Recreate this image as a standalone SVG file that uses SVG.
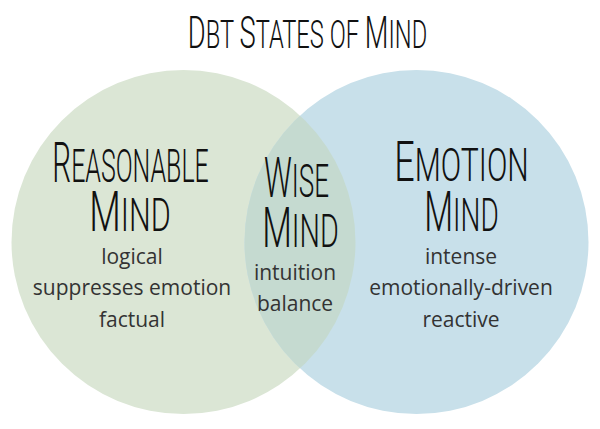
<svg xmlns="http://www.w3.org/2000/svg" width="600" height="429" viewBox="0 0 600 429">
<style>
.hd{font-family:Roboto,Inter,"DejaVu Sans",sans-serif;font-weight:300;fill:#111;text-anchor:middle}
.bg{font-size:56px}
.sm{font-size:47px}
.tb{font-size:45px}
.ts{font-size:39px}
.body{font-family:"Open Sans","Noto Sans",sans-serif;font-size:21px;fill:#333;text-anchor:middle}
</style>
<defs>
<clipPath id="clipL"><circle cx="183.5" cy="242" r="172"/></clipPath>
</defs>
<rect width="600" height="429" fill="#ffffff"/>
<g id="circles">
<circle cx="183.5" cy="242" r="172" fill="#dbe6d5"/>
<circle cx="416.5" cy="242" r="172" fill="#c8e0ea"/>
<circle cx="416.5" cy="242" r="172" fill="#c5dad0" clip-path="url(#clipL)"/>
</g>
<g id="title">
<text class="hd" transform="translate(307.5 48) scale(0.608 1)"><tspan class="tb">D</tspan><tspan class="ts">BT </tspan><tspan class="tb">S</tspan><tspan class="ts">TATES OF </tspan><tspan class="tb">M</tspan><tspan class="ts">IND</tspan></text>
</g>
<g id="connectors"/>
<g id="node-reasonable">
<text class="hd" transform="translate(130.5 182) scale(0.531 1)"><tspan class="bg">R</tspan><tspan class="sm">EASONABLE</tspan></text>
<text class="hd" transform="translate(130 231) scale(0.651 1)"><tspan class="bg">M</tspan><tspan class="sm">IND</tspan></text>
<text class="body" x="132" y="264">logical</text>
<text class="body" x="132" y="295">suppresses emotion</text>
<text class="body" x="132" y="327">factual</text>
</g>
<g id="node-wise">
<text class="hd" transform="translate(296.5 197) scale(0.555 1)"><tspan class="bg">W</tspan><tspan class="sm">ISE</tspan></text>
<text class="hd" transform="translate(300.5 247) scale(0.612 1)"><tspan class="bg">M</tspan><tspan class="sm">IND</tspan></text>
<text class="body" x="295" y="280">intuition</text>
<text class="body" x="295" y="311">balance</text>
</g>
<g id="node-emotion">
<text class="hd" transform="translate(461.5 181) scale(0.642 1)"><tspan class="bg">E</tspan><tspan class="sm">MOTION</tspan></text>
<text class="hd" transform="translate(461.5 231) scale(0.596 1)"><tspan class="bg">M</tspan><tspan class="sm">IND</tspan></text>
<text class="body" x="461" y="264">intense</text>
<text class="body" x="461" y="295">emotionally-driven</text>
<text class="body" x="461" y="327">reactive</text>
</g>
</svg>
